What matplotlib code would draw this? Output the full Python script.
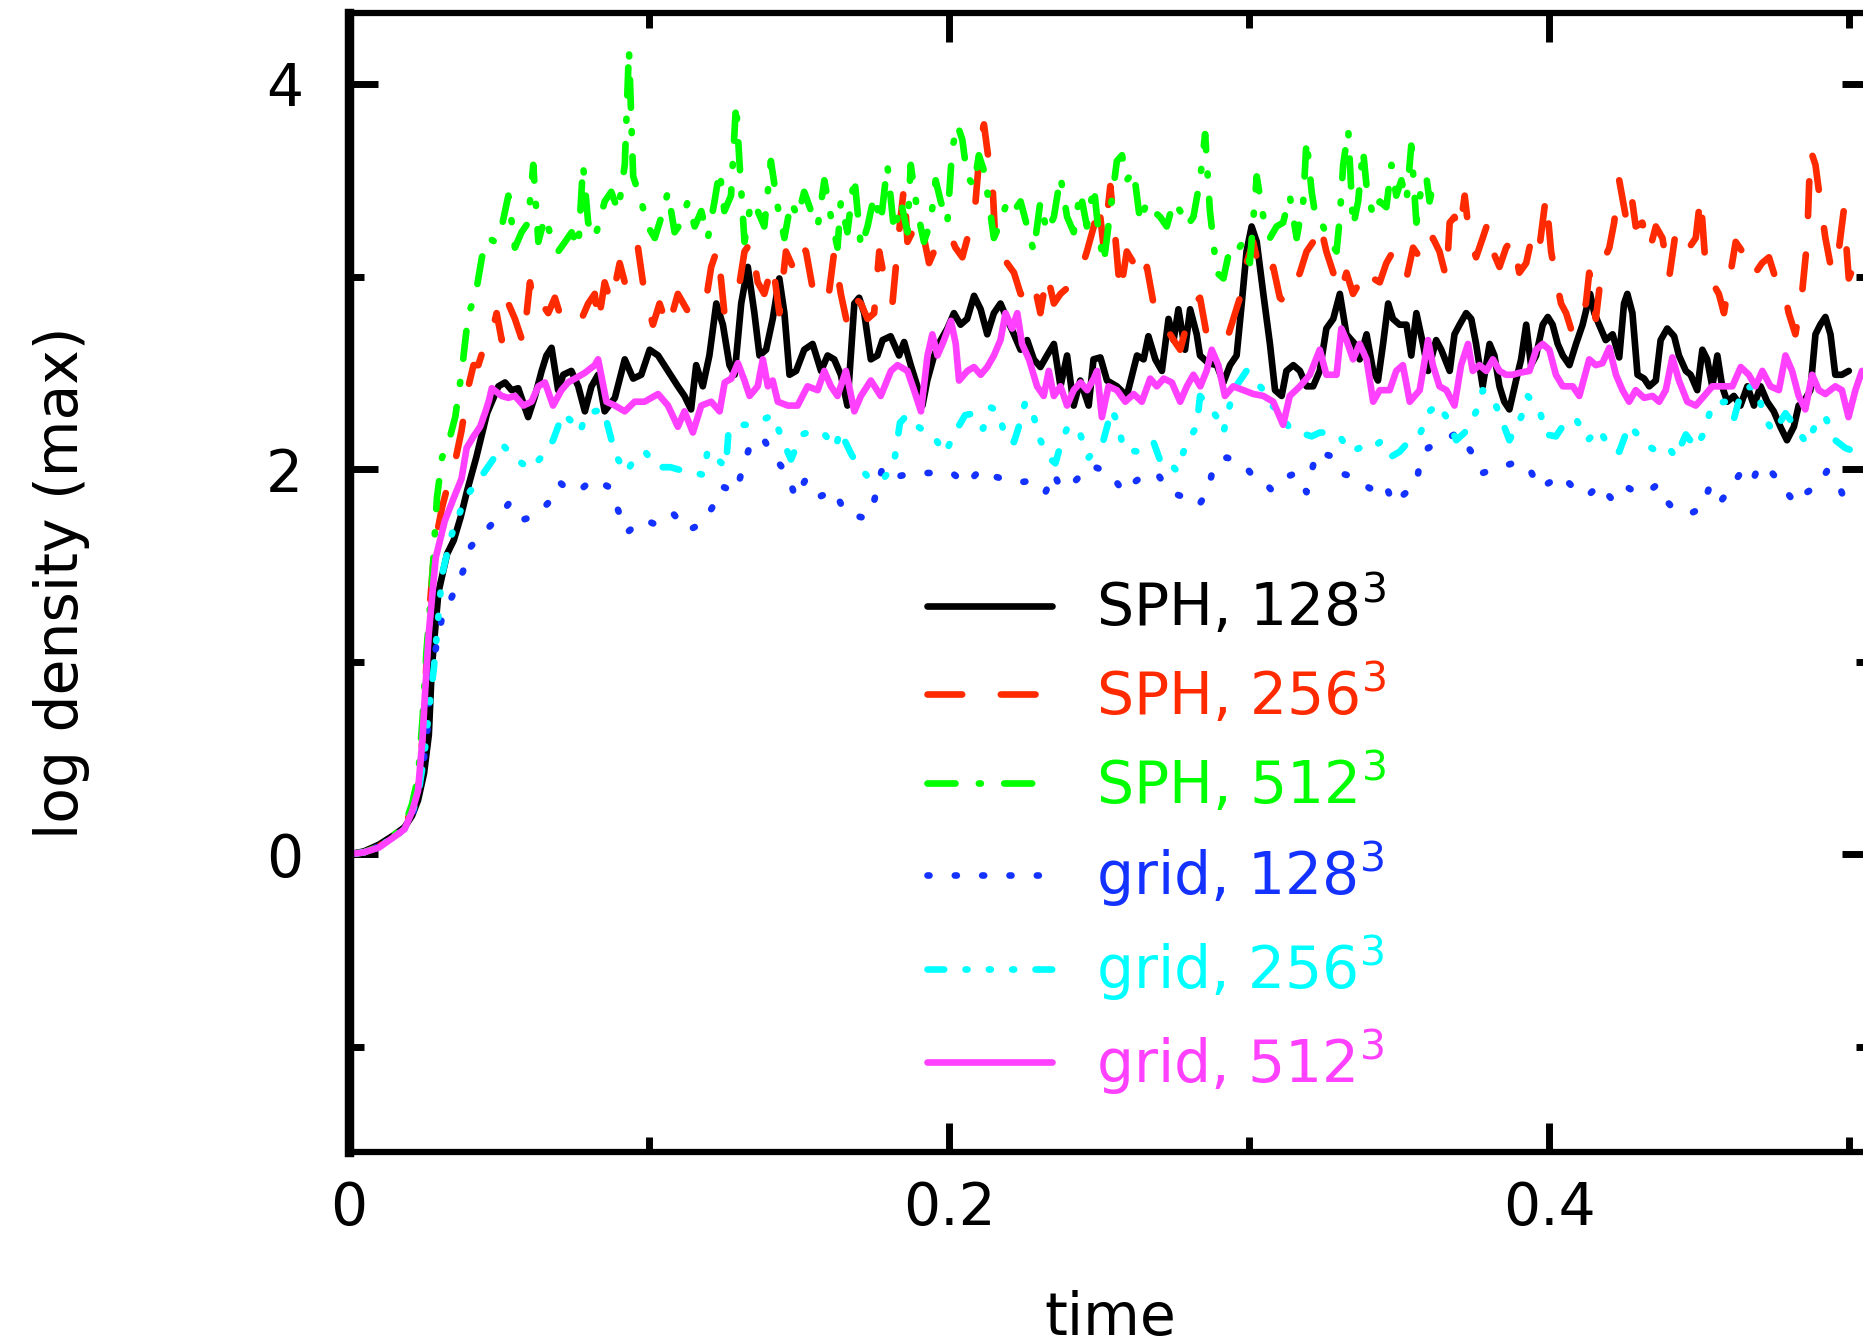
import matplotlib.pyplot as plt
from matplotlib.ticker import MultipleLocator

plt.rcParams['font.family'] = ['DejaVu Sans']
plt.rcParams['mathtext.default'] = 'regular'

# time and log of the maximum density

t_sph128 = [0, 0.005, 0.01, 0.015, 0.0185, 0.021, 0.023, 0.025, 0.0266, 0.0276, 0.0298, 0.0327, 0.0349, 0.0372, 0.0394, 0.0424, 0.046, 0.0498,
            0.052, 0.0542, 0.0564, 0.0597, 0.062, 0.0642, 0.0658, 0.0675, 0.0697, 0.0714, 0.0741, 0.0764, 0.0786, 0.0808,
            0.083, 0.0852, 0.0886, 0.0919, 0.0947, 0.0974, 0.1002, 0.103, 0.1063, 0.1096, 0.1118, 0.114, 0.1157, 0.1179, 0.1201, 0.1224, 0.1246, 0.1268, 0.1285, 0.1307,
            0.1329, 0.1351, 0.1368, 0.139, 0.1412, 0.1434, 0.1451, 0.1468, 0.149, 0.1517, 0.1545, 0.1573, 0.1595, 0.1617, 0.1639,
            0.1661, 0.1684, 0.17, 0.1717, 0.1739, 0.1761, 0.1778, 0.1805, 0.1833, 0.185, 0.1872, 0.1894, 0.1911, 0.1927, 0.195, 0.1972, 0.1994, 0.2016, 0.2038, 0.206,
            0.2083, 0.2105, 0.2127, 0.2149, 0.2171, 0.2193, 0.2216, 0.2238, 0.226, 0.2282, 0.2304, 0.2326, 0.2349, 0.2371, 0.2393, 0.2415, 0.2437, 0.2465,
            0.2481, 0.2504, 0.2526, 0.2559, 0.2592, 0.2626, 0.2648, 0.2664, 0.2687, 0.2709, 0.2731, 0.2748, 0.2764, 0.2786, 0.2803, 0.2825, 0.2836, 0.2864, 0.2892, 0.2914,
            0.2936, 0.2958, 0.2975, 0.2991, 0.3008, 0.3025, 0.3047, 0.3069, 0.3086, 0.3108, 0.3124, 0.3147, 0.3169, 0.3191, 0.3213, 0.3235, 0.3257, 0.328, 0.3302,
            0.3324, 0.3352, 0.3368, 0.3391, 0.3413, 0.3429, 0.3446, 0.3463, 0.3479, 0.3501, 0.3524, 0.354, 0.3557, 0.3579, 0.3596, 0.3623, 0.364, 0.3668, 0.3684, 0.3701,
            0.3723, 0.374, 0.3756, 0.3778, 0.3801, 0.3817, 0.3834, 0.385, 0.3867, 0.3889, 0.3906, 0.3923, 0.3939, 0.3956, 0.3978, 0.3995, 0.4011, 0.4028, 0.4045, 0.4067,
            0.4089, 0.4111, 0.4136,
            0.415, 0.4166, 0.4188, 0.4211, 0.4233, 0.4249, 0.426, 0.4277, 0.4294, 0.4316, 0.4333, 0.4355, 0.4371, 0.4393, 0.4416, 0.4432, 0.4455, 0.4471, 0.4493, 0.451,
            0.4526, 0.4543, 0.456, 0.4576, 0.4593, 0.4615, 0.4637, 0.466, 0.4682, 0.4704, 0.4726, 0.4748, 0.477, 0.4792, 0.4815, 0.4831, 0.4848, 0.487, 0.4887, 0.4903,
            0.492, 0.4937, 0.4953, 0.4975, 0.4998]
rho_sph128 = [0, 0.015, 0.05, 0.1, 0.14, 0.2, 0.28, 0.42, 0.62, 0.97, 1.36, 1.56, 1.63, 1.75, 1.89, 2.06, 2.29, 2.43,
              2.45, 2.41, 2.42, 2.27, 2.38, 2.51, 2.59, 2.63, 2.41, 2.49, 2.51, 2.43, 2.30, 2.43,
              2.49, 2.30, 2.37, 2.57, 2.47, 2.49, 2.62, 2.59, 2.51, 2.43, 2.38, 2.31, 2.54, 2.43, 2.59, 2.86, 2.75, 2.54, 2.49, 2.86,
              3.05, 2.81, 2.59, 2.62, 2.78, 2.99, 2.81, 2.49, 2.51, 2.62, 2.65, 2.51, 2.59, 2.57, 2.49,
              2.33, 2.86, 2.89, 2.81, 2.57, 2.59, 2.67, 2.69, 2.59, 2.66, 2.54, 2.43, 2.33, 2.46, 2.59, 2.67, 2.73, 2.81, 2.75, 2.78,
              2.90, 2.83, 2.70, 2.81, 2.86, 2.78, 2.70, 2.62, 2.67, 2.57, 2.53, 2.59, 2.65, 2.43, 2.59, 2.33, 2.46, 2.33,
              2.57, 2.58, 2.46, 2.43, 2.38, 2.59, 2.57, 2.69, 2.57, 2.51, 2.78, 2.67, 2.83, 2.62, 2.83, 2.70, 2.59, 2.55, 2.54, 2.45,
              2.54, 2.59, 2.86, 3.13, 3.26, 3.18, 2.91, 2.65, 2.41, 2.38, 2.51, 2.54, 2.51, 2.43, 2.43, 2.51, 2.73, 2.78, 2.91,
              2.70, 2.65, 2.57, 2.70, 2.51, 2.46, 2.65, 2.86, 2.78, 2.75, 2.75, 2.59, 2.81, 2.65, 2.51, 2.67, 2.62, 2.51, 2.70, 2.75,
              2.81, 2.78, 2.65, 2.43, 2.65, 2.59, 2.43, 2.35, 2.31, 2.46, 2.57, 2.75, 2.54, 2.59, 2.75, 2.79, 2.75, 2.65, 2.59, 2.54,
              2.65, 2.75, 2.91,
              2.81, 2.75, 2.67, 2.70, 2.58, 2.86, 2.91, 2.81, 2.49, 2.47, 2.43, 2.46, 2.67, 2.73, 2.69, 2.59, 2.51, 2.49, 2.41, 2.62,
              2.57, 2.43, 2.59, 2.43, 2.35, 2.38, 2.33, 2.43, 2.33, 2.43, 2.35, 2.30, 2.22, 2.15, 2.22, 2.33, 2.35, 2.41, 2.70, 2.75,
              2.79, 2.70, 2.49, 2.49, 2.51]

t_sph256 = [0, 0.005, 0.01, 0.015, 0.0185, 0.021, 0.023, 0.0245, 0.0255, 0.027, 0.0285, 0.031, 0.0335, 0.0355, 0.0375,
            0.0398, 0.0415, 0.0431, 0.0453, 0.047, 0.0492, 0.0509, 0.0531, 0.0553, 0.0581, 0.0603, 0.062, 0.0642, 0.0664, 0.0686, 0.0708,
            0.073, 0.0753, 0.0775, 0.0797, 0.0819,
            0.083, 0.0852, 0.0874, 0.0902, 0.0919, 0.0941, 0.0963, 0.0985, 0.1013, 0.1035, 0.1063, 0.1096, 0.1129, 0.1163, 0.1185, 0.1207,
            0.1229, 0.1251, 0.1273, 0.1296, 0.1318, 0.134, 0.1362, 0.1384, 0.1412, 0.1434, 0.1456, 0.1479, 0.1501, 0.1523, 0.1545, 0.1573,
            0.1595, 0.1617, 0.1639,
            0.1661, 0.1684, 0.1706, 0.1728, 0.175, 0.1767, 0.1794, 0.1811, 0.1833, 0.185, 0.1861, 0.1877, 0.1894, 0.1916, 0.1933, 0.1955,
            0.1977, 0.1999, 0.2021, 0.2044, 0.2066, 0.2088, 0.2105, 0.2116, 0.2132, 0.2143, 0.2154, 0.2171, 0.2193, 0.2216, 0.2238, 0.226,
            0.2282, 0.2304, 0.2326, 0.2349, 0.2371, 0.2393, 0.2415, 0.2437, 0.2459, 0.2482,
            0.2498, 0.2515, 0.2537, 0.2554, 0.257, 0.2592, 0.2615, 0.2637, 0.2659, 0.2681, 0.2703, 0.2725, 0.2748, 0.277, 0.2792, 0.2814,
            0.2836, 0.2858, 0.288, 0.2903, 0.2925, 0.2947, 0.2969, 0.2991, 0.3013, 0.3036, 0.3058, 0.308, 0.3102, 0.3124, 0.3147, 0.3169,
            0.3191, 0.3213, 0.3235, 0.3257, 0.328, 0.3302,
            0.3324, 0.3346, 0.3368, 0.3391, 0.3413, 0.3435, 0.3457, 0.3479, 0.3501, 0.3524, 0.3546, 0.3568, 0.359, 0.3612, 0.3634, 0.3657,
            0.3668, 0.3684, 0.3701, 0.3718, 0.3734, 0.3756, 0.3778, 0.3795, 0.3812, 0.3834, 0.3856, 0.3878, 0.39, 0.3923, 0.3945, 0.3967,
            0.3989, 0.4006, 0.4022, 0.4039, 0.4056, 0.4078, 0.41, 0.4122,
            0.4133, 0.4155, 0.4177, 0.42, 0.4216, 0.4233, 0.4255, 0.4272, 0.4288, 0.431, 0.4333, 0.4355, 0.4377, 0.4399, 0.4421, 0.4443,
            0.4466, 0.4488, 0.4504, 0.4521, 0.4543, 0.4565, 0.4582, 0.4599, 0.4621, 0.4643, 0.4665, 0.4687, 0.4709, 0.4732, 0.4754, 0.4776,
            0.4798, 0.482, 0.4842, 0.4859, 0.487, 0.4887, 0.4903, 0.492, 0.4942, 0.4964, 0.4981, 0.4998, 0.502]
rho_sph256 = [0, 0.01, 0.04, 0.1, 0.14, 0.24, 0.36, 0.6, 0.9, 1.3, 1.6, 1.8, 1.95, 2.05, 2.2,
              2.43, 2.54, 2.54, 2.65, 2.67, 2.81, 2.67, 2.86, 2.78, 2.65, 2.97, 2.83, 2.86, 2.81, 2.89, 2.78,
              2.74, 2.75, 2.78, 2.86, 2.91,
              2.75, 2.97, 2.86, 3.07, 2.97, 3.02, 3.15, 2.91, 2.75, 2.86, 2.73, 2.91, 2.82, 2.81, 2.83, 3.05,
              3.15, 2.81, 2.86, 2.91, 3.13, 3.18, 2.97, 2.91, 3.07, 2.81, 3.13, 3.05, 3.18, 3.13, 2.94, 2.91,
              2.86, 3.13, 2.91,
              2.75, 2.89, 2.86, 2.78, 2.81, 3.13, 2.91, 2.86, 3.23, 3.47, 3.18, 3.23, 3.13, 3.20, 3.07, 3.15,
              3.20, 3.23, 3.15, 3.10, 3.23, 3.39, 3.71, 3.79, 3.60, 3.52, 3.18, 3.13, 3.07, 3.02, 2.91, 2.89,
              2.97, 2.81, 3.02, 2.86, 2.91, 2.94, 2.99, 3.02, 3.13, 3.26,
              3.39, 3.15, 3.47, 3.20, 2.91, 3.13, 3.07, 2.97, 3.05, 2.86, 2.78, 2.73, 2.67, 2.62, 2.75, 2.86,
              2.89, 2.70, 2.67, 2.70, 2.67, 2.78, 2.89, 3.07, 3.18, 3.02, 2.99, 3.05, 2.89, 2.86, 2.94, 3.02,
              3.13, 3.18, 3.28, 3.13, 3.02, 2.91,
              3.02, 2.91, 2.97, 3.05, 2.99, 2.97, 3.07, 3.13, 3.05, 2.99, 3.15, 3.10, 3.07, 3.20, 3.13, 2.99,
              3.28, 3.31, 3.23, 3.42, 3.20, 3.10, 3.20, 3.28, 3.13, 3.05, 3.15, 3.20, 3.02, 3.07, 3.23, 3.15,
              3.42, 3.13, 2.99, 2.86, 2.81, 2.70, 2.78, 2.86,
              3.02, 2.78, 3.07, 3.15, 3.28, 3.50, 3.31, 3.44, 3.26, 3.28, 3.13, 3.26, 3.20, 2.99, 3.23, 3.13,
              3.15, 3.20, 3.42, 3.05, 2.97, 2.91, 2.81, 2.97, 3.18, 3.13, 3.15, 3.02, 3.07, 3.10, 2.99, 2.97,
              2.81, 2.70, 2.91, 3.18, 3.66, 3.58, 3.39, 3.20, 3.02, 3.13, 3.34, 2.99, 3.07]

t_sph512 = [0, 0.005, 0.01, 0.015, 0.0185, 0.021, 0.023, 0.0245, 0.0258, 0.0276, 0.0293, 0.031, 0.0332, 0.0354, 0.0376, 0.0398,
            0.042, 0.0443, 0.0465, 0.0487, 0.0509, 0.0531, 0.0553, 0.0575, 0.0597, 0.0614, 0.0631, 0.0653, 0.0675, 0.0697, 0.072, 0.0742,
            0.0764, 0.078, 0.0797, 0.0819,
            0.083, 0.0852, 0.0874, 0.0897, 0.0919, 0.0933, 0.0947, 0.0974, 0.0996, 0.1019, 0.1041, 0.1063, 0.1085, 0.1107, 0.1129, 0.1152,
            0.1174, 0.1196, 0.1218, 0.1235, 0.1251, 0.1273, 0.129, 0.1301, 0.1318, 0.134, 0.1362, 0.1384, 0.1406, 0.1429, 0.1451, 0.1473,
            0.1495, 0.1517, 0.154, 0.1562, 0.1584, 0.1606, 0.1628,
            0.1639, 0.1661, 0.1684, 0.1706, 0.1728, 0.175, 0.1772, 0.1794, 0.1817, 0.1839, 0.1861, 0.1872, 0.1894, 0.1916, 0.1938, 0.1955,
            0.1972, 0.1994, 0.201, 0.2027, 0.2044, 0.206, 0.2083, 0.2099, 0.2116, 0.2132, 0.2149, 0.2171, 0.2193, 0.2216, 0.2238, 0.226,
            0.2282, 0.2304, 0.2326, 0.2349, 0.2371, 0.2393, 0.2415, 0.2437, 0.2459, 0.2482,
            0.2498, 0.2515, 0.2537, 0.2559, 0.2576, 0.2592, 0.2615, 0.2637, 0.2659, 0.2681, 0.2703, 0.2725, 0.2748, 0.277, 0.2792, 0.2814,
            0.2836, 0.2853, 0.2869, 0.2892, 0.2914, 0.2936, 0.2958, 0.298, 0.3002, 0.3025, 0.3047, 0.3069, 0.3091, 0.3113, 0.3135, 0.3158,
            0.318, 0.3191, 0.3208, 0.3224, 0.3246, 0.3269, 0.3291,
            0.3302, 0.3313, 0.333, 0.3346, 0.3363, 0.3379, 0.3391, 0.3413, 0.3435, 0.3457, 0.3474, 0.349, 0.3507, 0.3524, 0.354, 0.3557,
            0.3574, 0.359, 0.3601, 0.3612]
rho_sph512 = [0, 0.01, 0.04, 0.1, 0.15, 0.26, 0.4, 0.7, 1.05, 1.40, 1.85, 2.06, 2.14, 2.27, 2.51, 2.81,
              2.89, 3.10, 3.20, 3.18, 3.26, 3.42, 3.15, 3.23, 3.28, 3.58, 3.18, 3.31, 3.20, 3.13, 3.18, 3.23,
              3.15, 3.58, 3.28, 3.20,
              3.26, 3.39, 3.44, 3.34, 3.58, 4.18, 3.52, 3.39, 3.26, 3.20, 3.31, 3.44, 3.23, 3.28, 3.39, 3.26,
              3.34, 3.20, 3.39, 3.55, 3.34, 3.42, 3.90, 3.60, 3.18, 3.39, 3.34, 3.26, 3.60, 3.36, 3.20, 3.39,
              3.31, 3.44, 3.34, 3.26, 3.50, 3.31, 3.15,
              3.39, 3.23, 3.52, 3.15, 3.26, 3.42, 3.28, 3.58, 3.23, 3.39, 3.23, 3.58, 3.34, 3.18, 3.28, 3.50,
              3.39, 3.28, 3.66, 3.79, 3.71, 3.52, 3.47, 3.63, 3.55, 3.39, 3.20, 3.28, 3.39, 3.34, 3.39, 3.26,
              3.13, 3.39, 3.23, 3.31, 3.52, 3.31, 3.23, 3.44, 3.26, 3.47,
              3.23, 3.07, 3.34, 3.60, 3.63, 3.50, 3.55, 3.28, 3.39, 3.34, 3.31, 3.26, 3.39, 3.34, 3.26, 3.31,
              3.50, 3.74, 3.34, 3.02, 2.99, 3.15, 3.13, 3.18, 3.07, 3.52, 3.31, 3.20, 3.26, 3.28, 3.42, 3.20,
              3.39, 3.71, 3.44, 3.28, 3.26, 3.18, 3.13,
              3.31, 3.58, 3.76, 3.26, 3.39, 3.66, 3.47, 3.31, 3.39, 3.36, 3.58, 3.42, 3.50, 3.39, 3.68, 3.28,
              3.47, 3.52, 3.39, 3.47]

t_grid128 = [0, 0.005, 0.01, 0.015, 0.0185, 0.021, 0.023, 0.0257, 0.0265, 0.0268, 0.0276, 0.0295, 0.031, 0.035, 0.038, 0.0407,
             0.045, 0.0497, 0.0537, 0.0585, 0.0625, 0.0673, 0.0703, 0.074, 0.077, 0.0813, 0.0863, 0.0896, 0.0926, 0.098, 0.1026, 0.108,
             0.1127, 0.118, 0.121, 0.1243, 0.129, 0.1313, 0.134, 0.138, 0.1418, 0.1463, 0.1488, 0.1523, 0.1573, 0.1617, 0.1655, 0.1708,
             0.1738, 0.1778, 0.1823, 0.188, 0.1946, 0.201, 0.2058, 0.2105, 0.2155,
             0.2227, 0.2277, 0.2321, 0.2349, 0.2371, 0.2421, 0.247,
             0.2537, 0.2581, 0.2615, 0.2642, 0.2692, 0.2736, 0.2792, 0.2831, 0.2864, 0.2881, 0.2925, 0.298, 0.3014, 0.3047, 0.3075, 0.3124,
             0.3158, 0.3191, 0.3224, 0.3268, 0.3302,
             0.3346, 0.3402, 0.3452, 0.3479, 0.3524, 0.3557, 0.3568, 0.3596, 0.364, 0.3695, 0.374, 0.3778, 0.3834, 0.3878, 0.3928, 0.3967,
             0.4011, 0.4039, 0.4089, 0.4128,
             0.4166, 0.4205, 0.4244, 0.4288, 0.4327, 0.436, 0.4377, 0.441, 0.4471, 0.451, 0.4532, 0.4565, 0.4599, 0.4637, 0.4676, 0.4698,
             0.4743, 0.4787, 0.482, 0.4859, 0.4898, 0.4925, 0.4964, 0.4992, 0.503]
rho_grid128 = [0, 0.01, 0.04, 0.09, 0.13, 0.2, 0.3, 0.57, 0.71, 0.83, 0.97, 1.11, 1.23, 1.36, 1.47, 1.60,
               1.67, 1.75, 1.83, 1.74, 1.76, 1.84, 1.93, 1.88, 1.89, 1.95, 1.91, 1.79, 1.67, 1.74, 1.71, 1.77,
               1.68, 1.72, 1.80, 1.91, 1.88, 2.01, 2.14, 2.16, 2.06, 1.97, 1.85, 1.95, 1.86, 1.89, 1.77, 1.75,
               1.76, 2.01, 1.96, 1.98, 1.98, 1.98, 1.92, 2.00, 1.96,
               1.93, 1.94, 1.88, 1.98, 1.90, 1.94, 2.02,
               1.98, 1.88, 1.93, 1.96, 1.98, 1.88, 1.85, 1.81, 1.89, 2.02, 2.06, 2.03, 1.96, 1.94, 1.89, 1.96,
               1.98, 1.88, 2.09, 2.07, 1.98,
               1.96, 1.90, 1.93, 1.82, 1.88, 1.92, 2.03, 2.11, 2.14, 2.19, 2.09, 1.98, 2.01, 2.03, 2.02, 1.90,
               1.94, 1.97, 1.89, 1.86,
               1.92, 1.85, 1.92, 1.88, 1.88, 1.92, 1.86, 1.80, 1.77, 1.80, 1.90, 1.82, 1.89, 1.98, 1.93, 2.02,
               1.98, 1.89, 1.82, 1.88, 1.92, 1.99, 1.92, 1.81, 1.80]

t_grid256 = [0, 0.005, 0.01, 0.015, 0.0185, 0.021, 0.023, 0.025, 0.0266, 0.0283, 0.031, 0.034, 0.0387, 0.044, 0.048, 0.051,
             0.055, 0.0603, 0.064, 0.068, 0.0713, 0.074, 0.077, 0.079, 0.0848, 0.087, 0.0886, 0.0923, 0.095, 0.0987, 0.1026, 0.1071,
             0.1116, 0.1153, 0.1183, 0.1195, 0.1256, 0.1264, 0.1286, 0.1332, 0.1383, 0.1413, 0.145, 0.1473, 0.1495, 0.151, 0.1547, 0.1585,
             0.1622, 0.1636, 0.1673, 0.1696, 0.174, 0.1786, 0.1815, 0.1836, 0.1859, 0.1896, 0.1949, 0.1986, 0.2016, 0.2053, 0.2083, 0.2113,
             0.2139,
             0.2166, 0.2188, 0.2216, 0.2232, 0.2254, 0.2277, 0.2304, 0.2332, 0.2354, 0.2376, 0.2398, 0.2437, 0.2465,
             0.2514, 0.2542, 0.2564, 0.2581, 0.2637, 0.2681, 0.2709, 0.2736, 0.2759, 0.2792, 0.2825, 0.2836, 0.2864, 0.2892, 0.2914, 0.2947,
             0.2991, 0.3025, 0.3047, 0.3075, 0.3102, 0.3135, 0.3169, 0.3208, 0.3235, 0.3263, 0.3302,
             0.3335, 0.3368, 0.3402, 0.3435, 0.3468, 0.3501, 0.3535, 0.3568, 0.3601, 0.3629, 0.3657, 0.369, 0.3718, 0.3767, 0.3778, 0.3812,
             0.384, 0.3867, 0.3889, 0.3906, 0.3928, 0.3967, 0.3989, 0.4022, 0.4056, 0.4089, 0.4128,
             0.4166, 0.42, 0.4233, 0.4266, 0.4288, 0.4321, 0.436, 0.4399, 0.4421, 0.4455, 0.4488, 0.4516, 0.4543, 0.4588, 0.4615, 0.4643,
             0.4687, 0.472, 0.4748, 0.4787, 0.482, 0.4859, 0.4898, 0.492, 0.4953, 0.4986, 0.502]
rho_grid256 = [0, 0.01, 0.04, 0.09, 0.13, 0.21, 0.31, 0.5, 0.74, 0.97, 1.45, 1.65, 1.85, 1.96, 2.05, 2.13,
               2.06, 2.00, 2.06, 2.15, 2.29, 2.25, 2.19, 2.29, 2.31, 2.18, 2.08, 1.98, 2.05, 2.09, 2.01, 2.01,
               1.99, 1.98, 1.97, 2.10, 2.01, 2.18, 2.23, 2.23, 2.26, 2.28, 2.13, 2.05, 2.13, 2.18, 2.20, 2.18,
               2.11, 2.20, 2.08, 2.02, 1.94, 1.96, 2.02, 2.24, 2.28, 2.22, 2.17, 2.08, 2.18, 2.28, 2.29, 2.21,
               2.32,
               2.30, 2.15, 2.14, 2.22, 2.35, 2.30, 2.15, 2.06, 2.03, 2.15, 2.23, 2.18, 2.06,
               2.15, 2.31, 2.23, 2.10, 2.09, 2.14, 2.02, 2.03, 1.99, 2.14, 2.22, 2.38, 2.33, 2.27, 2.19, 2.41,
               2.51, 2.45, 2.41, 2.33, 2.30, 2.21, 2.19, 2.17, 2.19, 2.19, 2.17,
               2.09, 2.11, 2.10, 2.14, 2.06, 2.09, 2.15, 2.18, 2.30, 2.34, 2.27, 2.15, 2.19, 2.33, 2.41, 2.37,
               2.26, 2.15, 2.22, 2.27, 2.38, 2.31, 2.18, 2.17, 2.25, 2.26, 2.15,
               2.21, 2.11, 2.09, 2.23, 2.19, 2.13, 2.09, 2.11, 2.06, 2.18, 2.11, 2.19, 2.34, 2.35, 2.26, 2.42,
               2.43, 2.26, 2.19, 2.29, 2.22, 2.13, 2.27, 2.27, 2.15, 2.11, 2.09]

t_grid512 = [0, 0.005, 0.01, 0.015, 0.0185, 0.021, 0.023, 0.0245, 0.0252, 0.0266, 0.0289, 0.0319, 0.0349, 0.0375, 0.0392, 0.0415,
             0.0437, 0.0455, 0.0467, 0.0476,
             0.0509, 0.0531, 0.0553, 0.0581, 0.0608, 0.0631, 0.0653, 0.068, 0.0708, 0.073, 0.0753, 0.0786, 0.0819,
             0.083, 0.0858, 0.0886, 0.0919, 0.0952, 0.0985, 0.103, 0.1063, 0.1096, 0.1118, 0.1146, 0.1174, 0.1207, 0.1235, 0.1252, 0.1274,
             0.1296, 0.1318, 0.1335, 0.1362, 0.1379, 0.1396, 0.1412, 0.1429, 0.1462, 0.1495, 0.1528, 0.1562, 0.1584, 0.1606, 0.1628,
             0.1656, 0.1684, 0.1706, 0.1739, 0.1772, 0.1806, 0.1828, 0.1861, 0.1883, 0.1906, 0.1928, 0.1944, 0.1961, 0.1983, 0.2006, 0.2022,
             0.2033, 0.2061, 0.2083, 0.2105, 0.2127, 0.2149, 0.2171, 0.2188, 0.221, 0.2227, 0.2243, 0.2266, 0.2293, 0.2315, 0.2332, 0.2349,
             0.2371, 0.2393, 0.2415, 0.2438, 0.246, 0.2482,
             0.2493, 0.2509, 0.2531, 0.2559, 0.2587, 0.2615, 0.2642, 0.267, 0.2692, 0.2715, 0.2742, 0.277, 0.2792, 0.2814, 0.2837, 0.2858,
             0.2875, 0.2897, 0.2919, 0.2947, 0.298, 0.3014, 0.3047, 0.308, 0.3113, 0.3135, 0.3169, 0.3202, 0.3235, 0.3257, 0.3291, 0.3307,
             0.3324, 0.3346, 0.3368, 0.3391, 0.3413, 0.3435, 0.3468, 0.349, 0.3512, 0.3535, 0.3568, 0.3596, 0.3612, 0.3634, 0.3657, 0.3684,
             0.3706, 0.3729, 0.3745, 0.3767, 0.379, 0.3812, 0.3834, 0.3856, 0.3878, 0.39, 0.3934, 0.3956, 0.3978, 0.4, 0.4022, 0.4045,
             0.4078, 0.41, 0.4133,
             0.4155, 0.4177, 0.42, 0.4222, 0.4244, 0.4266, 0.4288, 0.4316, 0.4344, 0.4366, 0.4388, 0.441, 0.4432, 0.446, 0.4488, 0.4516,
             0.4543, 0.4577, 0.461, 0.4638, 0.4665, 0.4687, 0.471, 0.4737, 0.4765, 0.4787, 0.4809, 0.4831, 0.4853, 0.4876, 0.4898, 0.492,
             0.4953, 0.4975, 0.4997, 0.502, 0.5042]
rho_grid512 = [0, 0.01, 0.035, 0.09, 0.13, 0.22, 0.33, 0.6, 0.80, 1.15, 1.54, 1.73, 1.85, 1.95, 2.11, 2.17,
               2.22, 2.30, 2.36, 2.42,
               2.38, 2.37, 2.38, 2.33, 2.35, 2.43, 2.45, 2.33, 2.41, 2.45, 2.47, 2.50, 2.54,
               2.57, 2.35, 2.33, 2.30, 2.35, 2.35, 2.39, 2.33, 2.22, 2.30, 2.19, 2.33, 2.35, 2.30, 2.45, 2.47,
               2.55, 2.46, 2.38, 2.43, 2.57, 2.43, 2.46, 2.35, 2.33, 2.33, 2.43, 2.41, 2.51, 2.43, 2.38,
               2.51, 2.30, 2.38, 2.46, 2.38, 2.51, 2.54, 2.51, 2.41, 2.30, 2.59, 2.70, 2.59, 2.67, 2.77, 2.65,
               2.46, 2.51, 2.53, 2.49, 2.53, 2.59, 2.67, 2.81, 2.73, 2.81, 2.65, 2.57, 2.43, 2.38, 2.51, 2.38,
               2.43, 2.33, 2.41, 2.45, 2.41, 2.47,
               2.51, 2.27, 2.43, 2.41, 2.35, 2.39, 2.35, 2.47, 2.43, 2.47, 2.45, 2.35, 2.43, 2.49, 2.43, 2.51,
               2.62, 2.54, 2.38, 2.43, 2.41, 2.39, 2.38, 2.35, 2.23, 2.38, 2.43, 2.49, 2.62, 2.49, 2.49, 2.73,
               2.67, 2.57, 2.65, 2.57, 2.35, 2.41, 2.41, 2.51, 2.54, 2.35, 2.41, 2.67, 2.54, 2.43, 2.41, 2.33,
               2.54, 2.65, 2.51, 2.54, 2.51, 2.57, 2.51, 2.49, 2.49, 2.50, 2.51, 2.62, 2.65, 2.62, 2.49, 2.43,
               2.43, 2.38, 2.57,
               2.54, 2.55, 2.63, 2.49, 2.41, 2.35, 2.41, 2.37, 2.38, 2.35, 2.41, 2.58, 2.46, 2.35, 2.33, 2.38,
               2.43, 2.43, 2.43, 2.53, 2.49, 2.43, 2.51, 2.43, 2.41, 2.59, 2.51, 2.38, 2.31, 2.49, 2.41, 2.39,
               2.43, 2.41, 2.27, 2.41, 2.51]

labels = ['SPH, 128$^3$', 'SPH, 256$^3$', 'SPH, 512$^3$',
          'grid, 128$^3$', 'grid, 256$^3$', 'grid, 512$^3$']
colors = ['#000000', '#ff2a00', '#00ff00', '#1432ff', '#00ffff', '#ff40ff']
dash_patterns = [None, (5.2, 5.8), (4.2, 3.5, 0.3, 3.5), (0.3, 3.8),
                 (2.5, 3.2, 0.3, 3.2, 0.3, 3.2, 0.3, 3.2), None]

series = [(t_sph128, rho_sph128), (t_sph256, rho_sph256), (t_sph512, rho_sph512),
          (t_grid128, rho_grid128), (t_grid256, rho_grid256), (t_grid512, rho_grid512)]

fig = plt.figure(figsize=(18.63, 13.44), dpi=100)
# the right-hand frame of the original is cut off by the image edge
ax = fig.add_axes([0.18733, 0.14286, 0.81696, 0.84725])

for (t, rho), lab, col, dp in zip(series, labels, colors, dash_patterns):
    line, = ax.plot(t, rho, color=col, lw=4.8, label=lab,
                    solid_joinstyle='round', solid_capstyle='round',
                    dash_joinstyle='round', dash_capstyle='round')
    if dp is not None:
        line.set_dashes(dp)

ax.set_xlim(0, 0.5072)
ax.set_ylim(-1.546, 4.367)
ax.set_xticks([0, 0.2, 0.4], ['0', '0.2', '0.4'])
ax.set_yticks([0, 2, 4], ['0', '2', '4'])
ax.xaxis.set_minor_locator(MultipleLocator(0.1))
ax.yaxis.set_minor_locator(MultipleLocator(1))
ax.tick_params(which='both', direction='in', top=True, right=True, width=5, labelsize=42)
ax.tick_params(which='major', length=21)
ax.tick_params(which='minor', length=11)
ax.tick_params(axis='x', pad=20)
ax.tick_params(axis='y', pad=33)

for side in ['left', 'right']:
    ax.spines[side].set_linewidth(6.8)
for side in ['top', 'bottom']:
    ax.spines[side].set_linewidth(4.5)

ax.set_xlabel('time', fontsize=42)
ax.xaxis.set_label_coords(0.5, -0.121)
ax.set_ylabel('log density (max)', fontsize=42)
ax.yaxis.set_label_coords(-0.170, 0.5)

ax.legend(loc='upper left', bbox_to_anchor=(0.3798, 0.5076), frameon=False,
          fontsize=42, handlelength=2.14, handletextpad=0.76, labelspacing=0.42,
          labelcolor='linecolor', borderaxespad=0, borderpad=0)

fig.savefig('out.png', dpi=100)
